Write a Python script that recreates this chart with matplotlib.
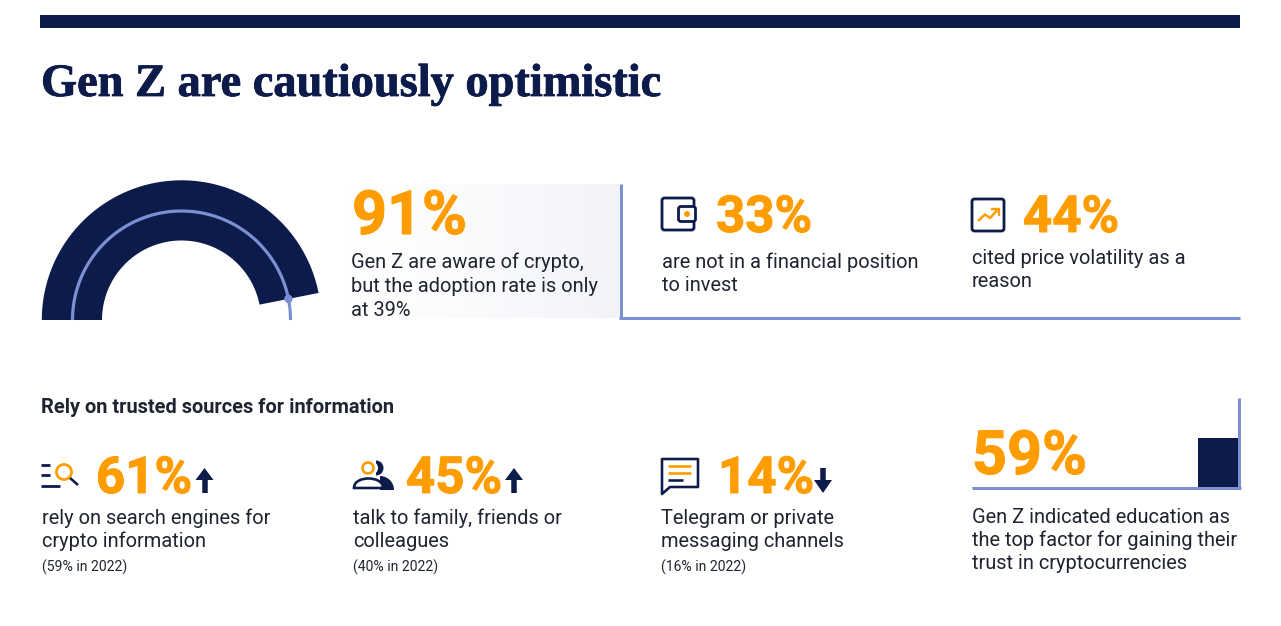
import numpy as np
import matplotlib
matplotlib.use("Agg")
import matplotlib.pyplot as plt
import matplotlib.patheffects as pe
from matplotlib.patches import Wedge, Rectangle, Circle, FancyBboxPatch, Polygon, PathPatch
from matplotlib.path import Path

title = "Gen Z are cautiously optimistic"
subhead = "Rely on trusted sources for information"
gauge_fraction = 0.938   # swept share of the half ring
awareness = 91
barrier_values = [33, 44]
barrier_labels = ["are not in a financial position\nto invest", "cited price volatility as a\nreason"]
awareness_label = "Gen Z are aware of crypto,\nbut the adoption rate is only\nat 39%"
source_values = [61, 45, 14]
source_prev = [59, 40, 16]
source_labels = ["rely on search engines for\ncrypto information",
                 "talk to family, friends or\ncolleagues",
                 "Telegram or private\nmessaging channels"]
education = 59
education_label = "Gen Z indicated education as\nthe top factor for gaining their\ntrust in cryptocurrencies"

NAVY = "#0D1B4B"
BLUE = "#7B90D3"
ORANGE = "#FF9C00"
INK = "#1F2430"
W, H = 1281, 626
px = 72 / 100

plt.rcParams['font.family'] = ['Roboto', 'DejaVu Sans']
fig = plt.figure(figsize=(W / 100, H / 100), dpi=100, facecolor="white")
ax = fig.add_axes([0, 0, 1, 1])
ax.set_xlim(0, W); ax.set_ylim(H, 0); ax.axis("off")


def rect(x0, y0, x1, y1, c=NAVY, z=2):
    ax.add_patch(Rectangle((x0, y0), x1 - x0, y1 - y0, fc=c, ec="none", zorder=z))


def line(xs, ys, c=NAVY, w=2.8, z=4, cap="butt"):
    ax.plot(xs, ys, color=c, lw=w * px, solid_capstyle=cap, solid_joinstyle="miter", zorder=z)


def big(x, y, value, size):
    ax.text(x, y, f"{value}%", color=ORANGE, fontsize=size * px, fontweight="bold",
            va="baseline", ha="left", zorder=5,
            path_effects=[pe.withStroke(linewidth=1.0 * px, foreground=ORANGE)])


def body(x, y, s, gap=23.2, size=20):
    for i, t in enumerate(s.split("\n")):
        ax.text(x, y + i * gap, t, color=INK, fontsize=size * px, va="baseline", ha="left", zorder=5)


def arrow(x, tip, end, head, c=NAVY):
    line([x, x], [head, end], c, 5.5)
    ax.add_patch(Polygon([(x, tip), (x - 9, head), (x + 9, head)], fc=c, ec="none", zorder=4))


# top rule and title
rect(40, 15, 1240, 28)
ax.text(41, 96, title, family="Liberation Serif", fontweight="bold", fontsize=33.4, color=NAVY, va="baseline",
        path_effects=[pe.withStroke(linewidth=0.8 * px, foreground=NAVY)])

# gauge
cx, cy = 181.5, 320
start = 180 * (1 - gauge_fraction)
t = np.radians(np.linspace(start, 180, 200))
ro, ri, rm = 139.7, 79.5, 109
ox, oy = cx + ro * np.cos(t), cy - ro * np.sin(t)
ix, iy = cx + ri * np.cos(t), cy - ri * np.sin(t)
ax.add_patch(Polygon(np.r_[np.c_[ox, oy], np.c_[ix, iy][::-1]], fc=NAVY, ec="none", zorder=2))
t2 = np.radians(np.linspace(0, 180, 300))
ax.plot(cx + rm * np.cos(t2), cy - rm * np.sin(t2), color=BLUE, lw=3.2 * px, zorder=3, solid_capstyle="butt")
ax.add_patch(Circle((cx + rm * np.cos(t[0]), cy - rm * np.sin(t[0])), 4.2, fc=BLUE, ec="none", zorder=4))

# gradient panel
grad = np.linspace(0, 1, 256).reshape(1, -1) ** 1.3
end_col = np.array([0xF2, 0xF3, 0xF9]) / 255
rgb = (1 - grad[..., None]) * np.array([1, 1, 1]) + grad[..., None] * end_col
ax.imshow(rgb, extent=(350, 620, 318, 184), aspect="auto", zorder=1, interpolation="bilinear")
ax.set_xlim(0, W); ax.set_ylim(H, 0)

line([620.5, 620.5], [184, 319], BLUE, 3)
line([619, 1240], [317.5, 317.5], BLUE, 3)

big(352, 234, awareness, 61)
body(351, 268, awareness_label, gap=24)

big(716, 232, barrier_values[0], 51)
body(662, 267.5, barrier_labels[0])
big(1023, 232, barrier_values[1], 51)
body(972, 263.5, barrier_labels[1])

# wallet icon
ax.add_patch(FancyBboxPatch((662, 198), 32, 32, boxstyle="round,pad=0,rounding_size=2.5",
                            fc="white", ec=NAVY, lw=2.8 * px, zorder=3))
ax.add_patch(FancyBboxPatch((678.5, 206.5), 17, 15, boxstyle="round,pad=0,rounding_size=2.5",
                            fc="white", ec=NAVY, lw=2.8 * px, zorder=4))
ax.add_patch(Circle((687, 214), 3, fc=ORANGE, ec="none", zorder=5))

# chart icon
ax.add_patch(FancyBboxPatch((972, 199), 32, 32, boxstyle="round,pad=0,rounding_size=2.5",
                            fc="white", ec=NAVY, lw=2.8 * px, zorder=3))
line([978, 985, 990, 998], [221, 214.5, 218, 209.5], ORANGE, 2.4)
line([991, 998.5, 998.5], [209, 209, 216], ORANGE, 2.4)

# sub heading
ax.text(41, 413, subhead, color=INK, fontsize=20 * px, fontweight="bold", va="baseline")

# source blocks
big_x = [96, 406, 718]
text_x = [42, 353, 661]
for i in range(3):
    big(big_x[i], 493, source_values[i], 51)
    body(text_x[i], 524, source_labels[i])
    ax.text(text_x[i], 572, f"({source_prev[i]}% in 2022)", color=INK, fontsize=14 * px, va="baseline")
arrow(204.5, 468, 493, 480)
arrow(514, 468, 493, 480)
arrow(823, 493, 468, 480)

# search icon
line([41, 50], [464.5, 464.5]); line([41, 50], [474.5, 474.5]); line([41, 60], [486, 486])
ax.add_patch(Circle((64, 472), 7.5, fc="none", ec=ORANGE, lw=2.8 * px, zorder=4))
line([70, 78], [478, 485], NAVY, 2.6)

# people icon
ax.add_patch(Wedge((376, 468), 7.5, -90, 90, fc=NAVY, ec="none", zorder=3))
ax.add_patch(Circle((371.5, 468), 6.5, fc="white", ec="none", zorder=3.5))
ax.add_patch(Circle((368, 468), 5.5, fc="white", ec=ORANGE, lw=2.6 * px, zorder=4))
ax.add_patch(Wedge((380, 490), 14, -90, 0, fc=NAVY, ec="none", zorder=3))
dome = Path([(354, 488), (354, 481), (362, 478.5), (368.5, 478.5), (375, 478.5), (383, 481), (383, 488), (354, 488)],
            [Path.MOVETO, Path.CURVE4, Path.CURVE4, Path.CURVE4, Path.CURVE4, Path.CURVE4, Path.CURVE4, Path.CLOSEPOLY])
ax.add_patch(PathPatch(dome, fc="white", ec=NAVY, lw=2.6 * px, zorder=4))

# message icon
bub = [(662, 459), (698, 459), (698, 487), (670, 487), (662, 494)]
ax.add_patch(Polygon(bub, closed=True, fc="white", ec=NAVY, lw=2.6 * px, joinstyle="round", zorder=3))
line([668, 691], [466, 466], ORANGE, 2.6)
line([668, 691], [473, 473], ORANGE, 2.6)
line([668, 683], [480, 480], NAVY, 2.6)

# education block
rect(1198, 438, 1238, 487)
line([1239, 1239], [398, 489], BLUE, 3)
line([972, 1240.5], [487.5, 487.5], BLUE, 3)
big(972, 474, education, 61)
body(972, 523, education_label)

fig.savefig("out.png", dpi=100, facecolor="white")
